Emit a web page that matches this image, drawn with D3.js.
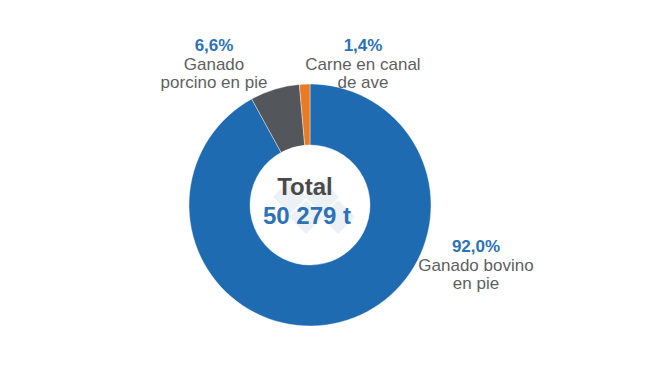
<!DOCTYPE html>
<html><head><meta charset="utf-8">
<script src="https://cdn.jsdelivr.net/npm/d3@7"></script>
<style>body{margin:0;background:#fff}svg{display:block}</style>
</head><body>
<svg id="c" width="650" height="366"></svg>
<script>
const categories = ["Ganado bovino en pie", "Ganado porcino en pie", "Carne en canal de ave"];
const values = [92.0, 6.6, 1.4];
const pctLabels = ["92,0%", "6,6%", "1,4%"];
const nameLines = [["Ganado bovino", "en pie"], ["Ganado", "porcino en pie"], ["Carne en canal", "de ave"]];
const colors = ["#1f6bb1", "#53565b", "#e87b23"];
const totalLabel = "Total";
const totalValue = "50 279 t";

const svg = d3.select("#c");
const cx = 310, cy = 205, R = 121, r = 60;
const g = svg.append("g").attr("transform", `translate(${cx},${cy})`);
const pie = d3.pie().sort(null).value(d => d);
const arc = d3.arc().innerRadius(r).outerRadius(R);
g.selectAll("path").data(pie(values)).join("path")
  .attr("d", arc).attr("fill", (d, i) => colors[i])
  .attr("stroke", "#fff").attr("stroke-width", 0.4);

// faint watermark
const wm = g.append("g").attr("opacity", 0.09).attr("fill", "#3a6fa8");
[[-20,-8],[12,-8],[-4,12],[28,12]].forEach(([x,y]) => {
  wm.append("rect").attr("x", -12).attr("y", -12).attr("width", 24).attr("height", 24)
    .attr("transform", `translate(${x},${y}) rotate(45)`);
});

g.append("text").attr("x", -5).attr("y", -10).attr("text-anchor", "middle")
  .attr("font-family", "Liberation Sans, Arial, sans-serif").attr("font-weight", "bold")
  .attr("font-size", 24).attr("fill", "#4a4a4a").text(totalLabel);
g.append("text").attr("x", -3).attr("y", 19).attr("text-anchor", "middle")
  .attr("font-family", "Liberation Sans, Arial, sans-serif").attr("font-weight", "bold")
  .attr("font-size", 24).attr("fill", "#2d72b6").text(totalValue);

const labelPos = [[476, 252], [214, 51], [363, 51]];
categories.forEach((c, i) => {
  const [x, y] = labelPos[i];
  const t = svg.append("g").attr("font-family", "Liberation Sans, Arial, sans-serif").attr("text-anchor", "middle");
  t.append("text").attr("x", x).attr("y", y).attr("font-size", 17).attr("font-weight", "bold")
    .attr("fill", "#2d72b6").text(pctLabels[i]);
  nameLines[i].forEach((ln, j) => {
    t.append("text").attr("x", x).attr("y", y + 19 + j * 18).attr("font-size", 17)
      .attr("fill", "#5f5f5f").text(ln);
  });
});
</script>
</body></html>
